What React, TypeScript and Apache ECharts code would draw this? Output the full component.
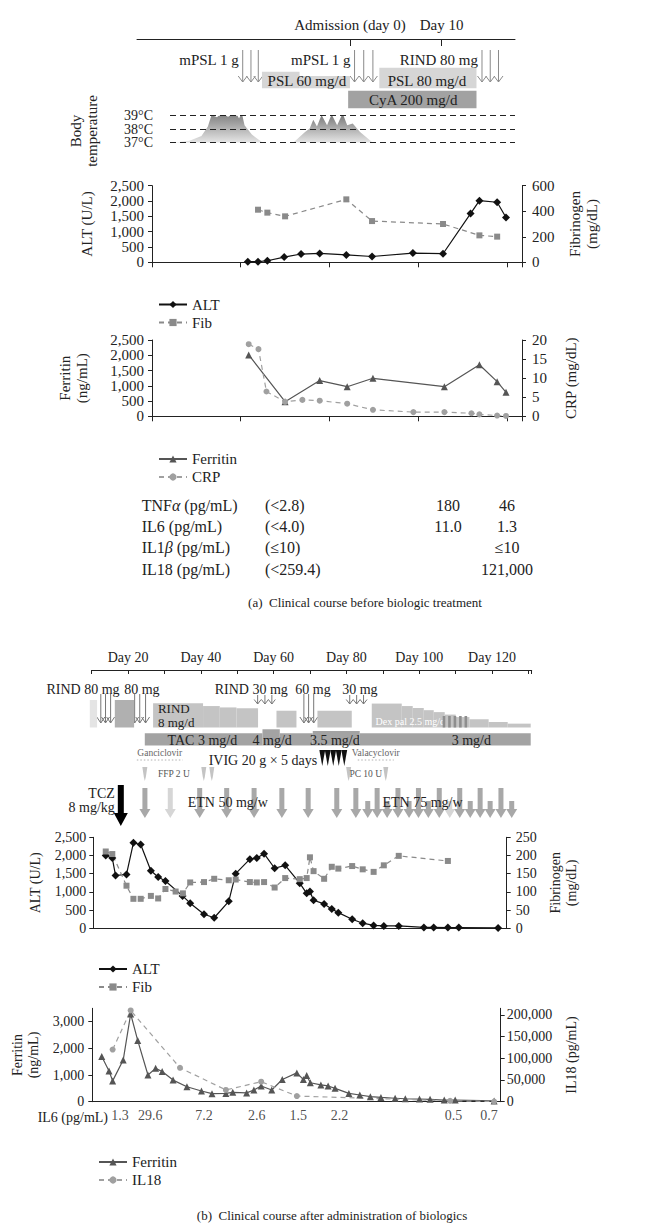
import { useEffect, useRef } from "react";
import * as echarts from "echarts";

const SERIF = "'Liberation Serif', 'DejaVu Serif', serif";
const INK = "#222222";
const fmt = (v: number) => Math.round(v).toLocaleString("en-US");

/* ================= (a) Clinical course before biologic treatment ================= */
const aTimelineMarkDays = [0, 10];
const aTimelineMarkLabels = ["Admission (day 0)", "Day 10"];

const aPulseLabels = ["mPSL 1 g", "mPSL 1 g", "RIND 80 mg"];
const aPulseDays = [
  [-11.7, -10.8, -10.0],
  [0.5, 1.5, 2.5],
  [14.4, 15.3, 16.2],
];

// drug courses: [start day, end day, relative dose level]
const aCourseLabels = ["PSL 60 mg/d", "PSL 80 mg/d", "CyA 200 mg/d"];
const aCourseLabelDays = [-4.7, 8.4, 6.9];
const aCourseRows = ["psl", "psl", "cya"];
const aCourseSegments = [
  [[-9.6, -5.5, 1], [-5.5, 0, 0.74]],
  [[3.2, 13.8, 1.24]],
  [[-0.2, 13.8, 1]],
];

const aFeverDays1 = [-19.4, -17.5, -16.2, -15.5, -15.1, -14.5, -13.9, -13.3, -12.6, -12.1, -11.8, -11.5, -10.7, -9.5];
const aFeverTemps1 = [37.0, 37.15, 37.5, 38.2, 39.05, 38.88, 39.3, 38.9, 39.4, 38.8, 39.2, 38.3, 37.6, 37.0];
const aFeverDays2 = [-6.2, -4.9, -4.4, -4.0, -3.6, -3.1, -2.5, -2.0, -1.4, -0.8, -0.3, 0.3, 1.1, 2.5];
const aFeverTemps2 = [37.0, 37.8, 38.06, 38.7, 38.2, 39.05, 38.3, 39.1, 38.3, 39.17, 38.3, 38.43, 37.8, 37.0];
const aTempTicks = [37, 38, 39];
const aTempLabels = ["37°C", "38°C", "39°C"];

const aAltDays = [-9.2, -8.05, -7.0, -5.1, -3.2, -1.1, 1.9, 4.8, 9.4, 12.8, 15.9, 16.9, 18.9, 19.9];
const aAlt = [20, 20, 50, 170, 270, 290, 240, 190, 300, 280, 1590, 2010, 1960, 1460];
const aFibDays = [-8.05, -7.0, -5.0, 1.9, 4.8, 12.8, 16.9, 18.9];
const aFib = [412, 389, 360, 493, 323, 300, 211, 201];

const aFerDays = [-9.1, -5.0, -1.1, 2.0, 4.9, 12.95, 16.9, 18.9, 19.9];
const aFer = [2010, 480, 1170, 970, 1245, 970, 1690, 1135, 785];
const aCrpDays = [-9.1, -8.0, -7.1, -5.0, -3.05, -1.1, 2.0, 4.9, 9.46, 12.95, 16.0, 16.9, 18.9, 19.9];
const aCrp = [18.9, 17.6, 6.5, 3.8, 4.3, 4.1, 3.3, 1.7, 1.1, 1.1, 0.8, 0.5, 0.2, 0.1];

const cytoNames = ["TNF{g|α} (pg/mL)", "IL6 (pg/mL)", "IL1{g|β} (pg/mL)", "IL18 (pg/mL)"];
const cytoRefs = ["(<2.8)", "(<4.0)", "(≤10)", "(<259.4)"];
const cytoCol1 = ["180", "11.0", "", ""];
const cytoCol2 = ["46", "1.3", "≤10", "121,000"];

/* ================= (b) Clinical course after administration of biologics ================= */
const bPulseLabels = ["RIND 80 mg", "80 mg", "RIND 30 mg", "60 mg", "30 mg"];
const bPulseDoses = [80, 80, 30, 60, 30];
const bPulseDays = [
  [12.5, 13.8, 15.2],
  [21.8, 23.2, 24.8],
  [55.6, 57.6, 59.5],
  [68.3, 69.6, 71.0],
  [80.9, 82.8, 84.7],
];

const bCourseLabels = ["", "", "RIND", "", "", "Dex pal 2.5 mg/d", ""];
const bCourseSubLabels = ["", "", "8 mg/d", "", "", "", ""];
const bCourseLabelDays = [0, 0, 28.2, 0, 0, 88.0, 0];
const bCourseRows = ["rind", "rind", "rind", "rind", "rind", "rind", "tac"];
const bCourseSegments = [
  [[9.48, 11.48, 1]],
  [[16.35, 21.65, 1]],
  [[26.87, 40.6, 0.88], [40.6, 45.19, 0.78], [45.19, 49.78, 0.73], [49.78, 55.71, 0.7]],
  [[60.77, 66.26, 0.61]],
  [[72.03, 81.46, 0.61]],
  [[86.95, 95.19, 0.87], [95.19, 98.21, 0.78], [98.21, 101.24, 0.71], [101.24, 103.98, 0.63], [103.98, 107.0, 0.56],
   [107.0, 110.03, 0.47], [110.03, 113.79, 0.38], [113.79, 119.07, 0.3], [119.07, 124.31, 0.2], [124.31, 130.63, 0.14]],
  [[24.59, 56.92, 1], [56.92, 61.68, 1.33], [61.68, 70.74, 1], [70.74, 83.65, 1.19], [83.65, 130.63, 1]],
];
const bCourseTones = ["#e4e4e4", "#b0b0b0", "#c4c4c4", "#c4c4c4", "#c4c4c4", "#c4c4c4", "#a3a3a3"];

const bTacLabels = ["TAC 3 mg/d", "4 mg/d", "3.5 mg/d", "3 mg/d"];
const bTacLabelDays = [40.4, 59.6, 76.8, 114.3];
const bDexStripeDays = [106.8, 108.3, 109.8, 111.3, 112.8];

const bAntiviralLabels = ["Ganciclovir", "Valacyclovir"];
const bAntiviralDays = [[22.4, 35.0], [83.1, 93.0]];

const bIvigLabel = "IVIG 20 g × 5 days";
const bIvigDays = [73.35, 74.86, 76.37, 77.88, 79.4];

const bTransfusionDays = [24.6, 40.8, 43.0, 80.6, 90.8];
const bTransfusionLabels = ["FFP 2 U", "PC 10 U"];
const bTransfusionLabelDays = [28.2, 85.3];

const bTczDay = 18.0;
const bTczLabel = "TCZ\n8 mg/kg";

const bEtnDays = [24.62, 31.59, 39.67, 47.09, 54.62, 62.25, 69.48, 77.34, 82.58, 85.85, 88.43, 91.18, 94.15, 97.2,
  99.78, 102.5, 105.5, 108.38, 111.13, 114.01, 116.73, 119.48, 122.45, 125.41];
const bEtnShort = [0, 0, 0, 0, 0, 0, 0, 0, 0, 1, 0, 1, 0, 1, 0, 1, 0, 1, 0, 1, 0, 1, 0, 1];
const bEtnPale = [0, 1, 0, 0, 0, 0, 0, 0, 0, 0, 0, 0, 0, 0, 0, 0, 0, 1, 0, 0, 0, 0, 0, 0];
const bEtnLabels = ["ETN 50 mg/w", "ETN 75 mg/w"];
const bEtnLabelDays = [47.4, 100.9];

const bAltDays = [13.8, 15.6, 16.5, 19.5, 21.4, 23.4, 26.2, 28.2, 30.2, 34.9, 37.0, 40.8, 43.6, 47.6, 49.5, 53.4, 55.3,
  57.3, 60.2, 63.1, 67.1, 69.0, 69.9, 70.9, 73.8, 75.9, 77.7, 81.5, 84.4, 87.4, 90.2, 94.3, 101.2, 103.9, 107.8, 110.8, 121.6];
const bAlt = [2000, 1930, 1450, 1480, 2350, 2300, 1580, 1410, 1300, 890, 690, 385, 290, 740, 1500, 1900, 1930, 2050,
  1650, 1730, 1240, 960, 1010, 770, 670, 530, 430, 250, 140, 80, 65, 65, 25, 25, 20, 20, 10];
const bFibDays = [13.8, 15.6, 19.5, 21.4, 23.4, 26.2, 28.2, 30.2, 33.0, 35.0, 37.0, 40.8, 43.6, 47.6, 49.5, 53.4, 55.3,
  57.3, 60.2, 63.1, 67.1, 69.0, 69.9, 70.9, 73.8, 75.9, 77.7, 81.5, 84.4, 87.4, 90.2, 94.3, 107.8];
const bFib = [211, 204, 117, 81, 81, 89, 82, 108, 101, 96, 126, 127, 136, 132, 134, 127, 126, 127, 112, 138, 135, 138,
  195, 157, 136, 169, 164, 171, 162, 155, 173, 199, 185];

const bFerDays = [12.7, 14.7, 15.7, 18.6, 20.65, 22.6, 25.4, 27.5, 29.3, 32.3, 36.1, 40.1, 43.0, 46.8, 48.7, 52.5, 54.5,
  56.5, 59.4, 62.3, 66.3, 68.1, 69.0, 70.0, 72.9, 74.9, 76.8, 80.6, 83.6, 86.5, 89.4, 93.3, 96.1, 100.0, 102.9, 106.8, 109.8, 120.5];
const bFer = [1690, 1150, 780, 1560, 3290, 2290, 1000, 1250, 1130, 810, 560, 400, 300, 310, 350, 330, 440, 590, 440, 830,
  1080, 830, 980, 710, 630, 590, 500, 310, 250, 190, 160, 130, 110, 100, 90, 60, 60, 30];
const bIl18Days = [15.7, 20.65, 34.2, 46.8, 56.5, 66.3, 108.4, 120.5];
const bIl18 = [120000, 210000, 78000, 27000, 46000, 13000, 2000, 500];
const bIl6Days = [17.7, 26.0, 40.8, 55.3, 66.7, 78.0, 109.3, 119.1];
const bIl6Values = ["1.3", "29.6", "7.2", "2.6", "1.5", "2.2", "0.5", "0.7"];

/* ================= layout (pixels) ================= */
const A_ROWS: any = {
  psl: { bottom: 88.3, unit: 16.6, color: "#d6d6d6", labelY: 81 },
  cya: { bottom: 108.3, unit: 17.6, color: "#a2a2a2", labelY: 99.5 },
};
const B_ROWS: any = {
  rind: { bottom: 727.5, unit: 27.5 },
  tac: { bottom: 745.5, unit: 12.2 },
};
const B_PULSE_LABEL_GAP = [9, 14, 16, 17, 14];

const pair = (xs: number[], ys: number[]) => xs.map((x, i) => [x, ys[i]]);

function txt(x: number, y: number, text: string, o: any = {}) {
  return {
    type: "text",
    style: { x, y, text, fontFamily: SERIF, fontSize: 14, fill: INK, align: "center", verticalAlign: "middle", ...o },
  };
}
function thinArrow(x: number, y1: number, y2: number, hw: number, hh: number, color: string) {
  return [
    { type: "line", shape: { x1: x, y1, x2: x, y2 }, style: { stroke: color, lineWidth: 1 } },
    { type: "polyline", shape: { points: [[x - hw, y2 - hh], [x, y2], [x + hw, y2 - hh]] }, style: { stroke: color, fill: null, lineWidth: 1 } },
  ];
}
function blockArrow(x: number, y1: number, y2: number, sw: number, hw: number, hh: number, fill: string) {
  return {
    type: "polygon",
    shape: {
      points: [[x - sw / 2, y1], [x + sw / 2, y1], [x + sw / 2, y2 - hh], [x + hw / 2, y2 - hh], [x, y2], [x - hw / 2, y2 - hh], [x - sw / 2, y2 - hh]],
    },
    style: { fill },
  };
}
function tl(xi: number, yi: number, n: number, draw: (i: number, c: (d: number, y: number) => number[]) => any[]) {
  return {
    type: "custom",
    xAxisIndex: xi,
    yAxisIndex: yi,
    clip: false,
    silent: true,
    data: Array.from({ length: n }, (_, i) => [i, 0]),
    renderItem: (params: any, api: any) => ({
      type: "group",
      children: draw(params.dataIndex, (d: number, y: number) => api.coord([d, y])),
    }),
  };
}

function hiddenAxis(gridIndex: number, min: number, max: number, inverse = false) {
  return { type: "value", gridIndex, min, max, inverse, show: false, splitLine: { show: false } };
}
function valueY(gridIndex: number, position: string, min: number, max: number, interval: number, fontSize: number,
  name: string, nameGap: number, margin: number, hideMax = false) {
  return {
    type: "value", gridIndex, position, min, max, interval,
    axisLine: { show: true, onZero: false, lineStyle: { color: INK, width: 1 } },
    axisTick: { show: true, length: 4, lineStyle: { color: INK } },
    axisLabel: { fontFamily: SERIF, color: INK, fontSize, formatter: fmt, margin, showMaxLabel: !hideMax, hideOverlap: false },
    splitLine: { show: false },
    name, nameLocation: "middle", nameRotate: 90, nameGap,
    nameTextStyle: { fontFamily: SERIF, color: INK, fontSize, lineHeight: fontSize + 2 },
  };
}
function plainX(gridIndex: number, min: number, max: number, ticks: boolean, interval?: number) {
  return {
    type: "value", gridIndex, min, max, interval,
    axisLine: { show: true, onZero: false, lineStyle: { color: INK, width: 1 } },
    axisTick: { show: ticks, length: 5, lineStyle: { color: INK } },
    axisLabel: { show: false },
    splitLine: { show: false },
  };
}

function lineSeries(name: string, xi: number, yi: number, data: number[][], color: string, symbol: string, size: number, dashed: boolean) {
  return {
    type: "line", name, xAxisIndex: xi, yAxisIndex: yi, data, symbol, symbolSize: size,
    itemStyle: { color },
    lineStyle: { color, width: 1.2, type: dashed ? [5, 4] : "solid" },
    z: 3,
  };
}

function legend(names: string[], left: number, top: number) {
  return {
    data: names, left, top, orient: "vertical", itemGap: 3, itemWidth: 28, itemHeight: 9,
    textStyle: { fontFamily: SERIF, fontSize: 15, color: INK }, selectedMode: false,
  };
}

function buildOption() {
  const grey = "#8a8a8a";
  const feverFill = new echarts.graphic.LinearGradient(0, 0, 0, 1, [
    { offset: 0, color: "#727272" },
    { offset: 1, color: "#e6e6e6" },
  ]);

  const grids = [
    { left: 137, top: 39, width: 378, height: 111 },          // 0 timeline a
    { left: 170, top: 115.7, width: 345, height: 27 },        // 1 temperature
    { left: 152, top: 185.7, width: 370, height: 76.6 },      // 2 ALT/Fib a
    { left: 152, top: 340, width: 370, height: 76.3 },        // 3 Ferritin/CRP a
    { left: 91.7, top: 670, width: 440, height: 160 },        // 4 timeline b
    { left: 93.3, top: 837.3, width: 413.4, height: 91 },     // 5 ALT/Fib b
    { left: 92.3, top: 1008.3, width: 408.4, height: 93.4 },  // 6 Ferritin/IL18 b
  ].map((g) => ({ ...g, containLabel: false, outerBoundsMode: "none" }));

  const xAxis: any[] = [
    {
      type: "value", gridIndex: 0, position: "top", min: -23.23, max: 18.0,
      axisLine: { show: true, onZero: false, lineStyle: { color: INK, width: 1 } },
      axisTick: { show: true, inside: true, length: 7, customValues: aTimelineMarkDays, lineStyle: { color: INK } },
      axisLabel: {
        show: true, customValues: aTimelineMarkDays, fontFamily: SERIF, fontSize: 15, color: INK, margin: 7,
        formatter: (v: number) => aTimelineMarkLabels[aTimelineMarkDays.indexOf(v)] ?? "",
      },
      splitLine: { show: false },
    },
    hiddenAxis(1, -19.63, 18.0),
    plainX(2, -20, 21.7, true, 10),
    plainX(3, -20, 21.7, true, 10),
    {
      type: "value", gridIndex: 4, position: "top", min: 10, max: 130.9, interval: 10,
      axisLine: { show: true, onZero: false, lineStyle: { color: INK, width: 1 } },
      axisTick: { show: true, inside: true, length: 4, lineStyle: { color: INK } },
      axisLabel: {
        fontFamily: SERIF, fontSize: 14, color: INK, margin: 6, hideOverlap: false,
        formatter: (v: number) => (v % 20 === 0 && v >= 20 && v <= 120 ? `Day ${v}` : ""),
      },
      splitLine: { show: false },
    },
    plainX(5, 10.38, 123.96, false),
    plainX(6, 10.11, 122.3, false),
  ];

  const yAxis: any[] = [
    hiddenAxis(0, 39, 150, true),
    {
      type: "value", gridIndex: 1, min: 37, max: 39, interval: 1, z: 5,
      axisLine: { show: false, onZero: false }, axisTick: { show: false },
      axisLabel: { show: false },
      splitLine: { show: true, lineStyle: { color: INK, width: 1, type: [6, 4] } },
    },
    valueY(2, "left", 0, 2500, 500, 15, "ALT (U/L)", 57, 8),
    valueY(2, "right", 0, 600, 200, 15, "Fibrinogen\n(mg/dL)", 44, 10),
    valueY(3, "left", 0, 2500, 500, 15, "Ferritin\n(ng/mL)", 62, 8),
    valueY(3, "right", 0, 20, 5, 15, "CRP (mg/dL)", 40, 10),
    hiddenAxis(4, 670, 830, true),
    valueY(5, "left", 0, 2500, 500, 14, "ALT (U/L)", 46, 7),
    valueY(5, "right", 0, 250, 50, 14, "Fibrinogen\n(mg/dL)", 36, 9),
    valueY(6, "left", 0, 3500, 1000, 14, "Ferritin\n(ng/mL)", 45, 8, true),
    valueY(6, "right", 0, 215000, 50000, 14, "IL18 (pg/mL)", 55, 6, true),
  ];

  const series: any[] = [
    /* ---- (a) timeline ---- */
    tl(0, 0, aPulseDays.length, (i, c) => {
      const ch: any[] = [];
      aPulseDays[i].forEach((d) => {
        const [x, y1] = c(d, 50);
        ch.push(...thinArrow(x, y1, c(d, 82)[1], 4.5, 6, "#8a8a8a"));
      });
      const [x0, y0] = c(aPulseDays[i][0], 60);
      ch.push(txt(x0 - 4, y0, aPulseLabels[i], { align: "right", fontSize: 15 }));
      return ch;
    }),
    tl(0, 0, aCourseSegments.length, (i, c) => {
      const row = A_ROWS[aCourseRows[i]];
      const ch: any[] = aCourseSegments[i].map(([s, e, l]) => {
        const [x1, yb] = c(s, row.bottom);
        const [x2, yt] = c(e, row.bottom - row.unit * l);
        return { type: "rect", shape: { x: x1, y: yt, width: x2 - x1, height: yb - yt }, style: { fill: row.color } };
      });
      const [lx, ly] = c(aCourseLabelDays[i], row.labelY);
      ch.push(txt(lx, ly, aCourseLabels[i], { fontSize: 15 }));
      return ch;
    }),
    {
      type: "line", xAxisIndex: 1, yAxisIndex: 1, silent: true, symbol: "none", z: 1,
      data: pair(aFeverDays1, aFeverTemps1), lineStyle: { width: 0 }, areaStyle: { color: feverFill, opacity: 1, origin: "start" },
    },
    {
      type: "line", xAxisIndex: 1, yAxisIndex: 1, silent: true, symbol: "none", z: 1,
      data: pair(aFeverDays2, aFeverTemps2), lineStyle: { width: 0 }, areaStyle: { color: feverFill, opacity: 1, origin: "start" },
    },
    // temperature tick labels, placed through the temperature axis scale
    tl(1, 1, aTempTicks.length, (i, c) => {
      const [x, y] = c(-19.63, aTempTicks[i]);
      return [txt(x - 17, y, aTempLabels[i], { align: "right", fontSize: 14, lineHeight: 12.5 })];
    }),
    /* ---- (a) labs ---- */
    lineSeries("ALT", 2, 2, pair(aAltDays, aAlt), "#111111", "diamond", 8, false),
    lineSeries("Fib", 2, 3, pair(aFibDays, aFib), grey, "rect", 6, true),
    lineSeries("Ferritin", 3, 4, pair(aFerDays, aFer), "#555555", "triangle", 7, false),
    lineSeries("CRP", 3, 5, pair(aCrpDays, aCrp), "#a0a0a0", "circle", 6, true),

    /* ---- (b) timeline ---- */
    tl(4, 6, bPulseDays.length, (i, c) => {
      const ch: any[] = [];
      const long = bPulseDoses[i] >= 60;
      bPulseDays[i].forEach((d) => {
        const [x, y1] = c(d, long ? 694 : 695);
        const y2 = c(d, long ? 723 : 704)[1];
        ch.push(...thinArrow(x, y1, y2, long ? 4 : 3.5, long ? 6 : 4.5, "#777777"));
      });
      const days = bPulseDays[i];
      const [xl, yl] = c(days[days.length - 1], 689);
      ch.push(txt(xl + B_PULSE_LABEL_GAP[i], yl, bPulseLabels[i], { align: "right" }));
      return ch;
    }),
    tl(4, 6, bCourseSegments.length, (i, c) => {
      const row = B_ROWS[bCourseRows[i]];
      const ch: any[] = bCourseSegments[i].map(([s, e, l]) => {
        const [x1, yb] = c(s, row.bottom);
        const [x2, yt] = c(e, row.bottom - row.unit * l);
        return { type: "rect", shape: { x: x1, y: yt, width: x2 - x1, height: yb - yt }, style: { fill: bCourseTones[i] } };
      });
      if (bCourseLabels[i]) {
        const dex = bCourseLabels[i].startsWith("Dex");
        const [lx, ly] = c(bCourseLabelDays[i], dex ? 721 : 708.5);
        ch.push(txt(lx, ly, bCourseLabels[i], dex
          ? { align: "left", fontSize: 10, fill: "#ffffff" }
          : { align: "left", fontSize: 13, lineHeight: 11 }));
        if (bCourseSubLabels[i]) {
          const [sx, sy] = c(bCourseLabelDays[i], 722.5);
          ch.push(txt(sx, sy, bCourseSubLabels[i], { align: "left", fontSize: 13, lineHeight: 11 }));
        }
      }
      return ch;
    }),
    tl(4, 6, bDexStripeDays.length, (i, c) => {
      const [x, y1] = c(bDexStripeDays[i], 716);
      const y2 = c(bDexStripeDays[i], 727.5)[1];
      return [{ type: "rect", shape: { x: x - 1.3, y: y1, width: 2.6, height: y2 - y1 }, style: { fill: "#8e8e8e" } }];
    }),
    tl(4, 6, bTacLabels.length, (i, c) => {
      const [x, y] = c(bTacLabelDays[i], 740.5);
      return [txt(x, y, bTacLabels[i])];
    }),
    tl(4, 6, bAntiviralLabels.length, (i, c) => {
      const [x1, yl] = c(bAntiviralDays[i][0], 760);
      const [x2] = c(bAntiviralDays[i][1], 760);
      const [xt, yt] = c((bAntiviralDays[i][0] + bAntiviralDays[i][1]) / 2, 752.5);
      return [
        { type: "line", shape: { x1, y1: yl, x2, y2: yl }, style: { stroke: "#b0b0b0", lineWidth: 1, lineDash: [1.5, 2] } },
        txt(xt, yt, bAntiviralLabels[i], { fontSize: 9.5, fill: "#666666" }),
      ];
    }),
    tl(4, 6, 1, (_i, c) => {
      const ch: any[] = bIvigDays.map((d) => {
        const [x, y1] = c(d, 750);
        const y2 = c(d, 766)[1];
        return { type: "polygon", shape: { points: [[x - 2.9, y1], [x + 2.9, y1], [x, y2]] }, style: { fill: "#111111" } };
      });
      const [x0, y0] = c(bIvigDays[0], 760);
      ch.push(txt(x0 - 5, y0, bIvigLabel, { align: "right" }));
      return ch;
    }),
    tl(4, 6, 1, (_i, c) => {
      const ch: any[] = bTransfusionDays.map((d) => {
        const [x, y1] = c(d, 767);
        const y2 = c(d, 781)[1];
        return {
          type: "polygon",
          shape: { points: [[x - 2.5, y1], [x + 2.5, y1], [x + 1, y2 - 4], [x, y2], [x - 1, y2 - 4]] },
          style: { fill: "#c4c4c4" },
        };
      });
      bTransfusionLabels.forEach((t, k) => {
        const [x, y] = c(bTransfusionLabelDays[k], 774);
        ch.push(txt(x, y, t, { fontSize: 9.5, fill: "#555555", align: k === 0 ? "left" : "center" }));
      });
      return ch;
    }),
    tl(4, 6, 1, (_i, c) => {
      const [x, y1] = c(bTczDay, 785);
      const y2 = c(bTczDay, 826)[1];
      const [lx, ly] = c(bTczDay, 800);
      return [
        blockArrow(x, y1, y2, 6, 14, 13, "#000000"),
        txt(lx - 6, ly, bTczLabel, { align: "right", lineHeight: 14 }),
      ];
    }),
    tl(4, 6, 1, (_i, c) => {
      const ch: any[] = bEtnDays.map((d, k) => {
        const [x, y1] = c(d, bEtnShort[k] ? 801 : 788);
        const y2 = c(d, 818)[1];
        return blockArrow(x, y1, y2, 5, 11, 9, bEtnPale[k] ? "#d6d6d6" : "#a8a8a8");
      });
      bEtnLabels.forEach((t, k) => {
        const [x, y] = c(bEtnLabelDays[k], 802);
        ch.push(txt(x, y, t));
      });
      return ch;
    }),

    /* ---- (b) labs ---- */
    lineSeries("ALT", 5, 7, pair(bAltDays, bAlt), "#111111", "diamond", 8, false),
    lineSeries("Fib", 5, 8, pair(bFibDays, bFib), grey, "rect", 6, true),
    lineSeries("Ferritin", 6, 9, pair(bFerDays, bFer), "#555555", "triangle", 7, false),
    lineSeries("IL18", 6, 10, pair(bIl18Days, bIl18), "#a0a0a0", "circle", 6, true),
    {
      type: "scatter", name: "IL6", xAxisIndex: 6, yAxisIndex: 9, silent: true, clip: false,
      symbolSize: 1, itemStyle: { color: "transparent" },
      data: bIl6Days.map((d, i) => ({ value: [d, 0], label: { formatter: bIl6Values[i] } })),
      label: { show: true, position: "bottom", distance: 6, fontFamily: SERIF, fontSize: 14, color: INK },
    },
  ];

  const graphic: any[] = [
    {
      type: "text", x: 84, y: 131, rotation: Math.PI / 2,
      style: { text: "Body\ntemperature", fontFamily: SERIF, fontSize: 15, lineHeight: 16, fill: INK, align: "center", verticalAlign: "middle" },
    },
  ];
  const rowsY = [505, 526, 547.5, 569];
  const rich = { g: { fontStyle: "italic", fontFamily: SERIF, fontSize: 16, fill: INK } };
  const cell = (x: number, y: number, text: string, align: string, extra: any = {}) => ({
    type: "text", x, y, style: { text, fontFamily: SERIF, fontSize: 16, fill: INK, align, verticalAlign: "middle", ...extra },
  });
  cytoNames.forEach((t, i) => {
    graphic.push(cell(141.7, rowsY[i], t, "left", { rich }));
    graphic.push(cell(265, rowsY[i], cytoRefs[i], "left"));
    if (cytoCol1[i]) graphic.push(cell(448, rowsY[i], cytoCol1[i], "center"));
    if (cytoCol2[i]) graphic.push(cell(507, rowsY[i], cytoCol2[i], "center"));
  });
  graphic.push(
    { type: "text", x: 365, y: 602, style: { text: "(a)  Clinical course before biologic treatment", fontFamily: SERIF, fontSize: 13, fill: INK, align: "center", verticalAlign: "middle" } },
    { type: "text", x: 108, y: 1117, style: { text: "IL6 (pg/mL)", fontFamily: SERIF, fontSize: 14, fill: INK, align: "right", verticalAlign: "middle" } },
    { type: "text", x: 332, y: 1215, style: { text: "(b)  Clinical course after administration of biologics", fontFamily: SERIF, fontSize: 13, fill: INK, align: "center", verticalAlign: "middle" } },
  );

  return {
    animation: false,
    backgroundColor: "#ffffff",
    textStyle: { fontFamily: SERIF },
    grid: grids,
    xAxis,
    yAxis,
    series,
    graphic,
    legend: [
      legend(["ALT", "Fib"], 153, 292),
      legend(["Ferritin", "CRP"], 153, 446.5),
      legend(["ALT", "Fib"], 93, 956.5),
      legend(["Ferritin", "IL18"], 93, 1149.5),
    ],
  };
}

export default function App() {
  const ref = useRef<HTMLDivElement>(null);
  useEffect(() => {
    const chart = echarts.init(ref.current!, null, { renderer: "svg" });
    chart.setOption(buildOption() as any);
    return () => chart.dispose();
  }, []);
  return (
    <div
      ref={ref}
      style={{ position: "absolute", left: 0, top: 0, width: 669, height: 1226, background: "#ffffff" }}
    />
  );
}
